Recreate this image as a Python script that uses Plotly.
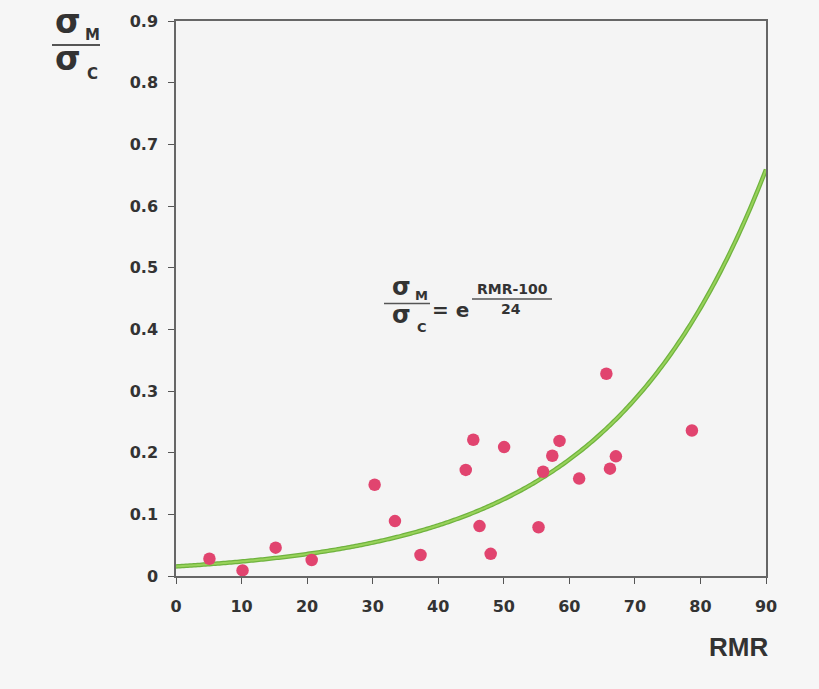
import numpy as np
import plotly.graph_objects as go

# ---- data ----
rmr = [5.1, 10.15, 15.2, 20.7, 30.3, 33.4, 37.3, 44.2, 45.35, 46.3, 48.0,
       50.05, 55.3, 56.0, 57.4, 58.5, 61.5, 65.65, 66.2, 67.1, 78.7]
ratio = [0.028, 0.009, 0.046, 0.026, 0.148, 0.089, 0.034, 0.172, 0.221, 0.081, 0.036,
         0.209, 0.079, 0.169, 0.195, 0.219, 0.158, 0.328, 0.174, 0.194, 0.236]

x_ticks = [0, 10, 20, 30, 40, 50, 60, 70, 80, 90]
y_ticks = [0, 0.1, 0.2, 0.3, 0.4, 0.5, 0.6, 0.7, 0.8, 0.9]
y_ticktext = ["0", "0.1", "0.2", "0.3", "0.4", "0.5", "0.6", "0.7", "0.8", "0.9"]

# fitted curve from the equation shown: sigma_M/sigma_C = exp((RMR-100)/24)
FIT_OFFSET = 100
FIT_SCALE = 24
curve_x = np.linspace(0, 90, 300)
curve_y = np.exp((curve_x - FIT_OFFSET) / FIT_SCALE)

# ---- layout geometry (pixels) ----
W, H = 819, 689
L, R, T, B = 176, 766, 19, 576


def px(x):
    return (x - L) / (R - L)


def py(y):
    return (B - y) / (B - T)


FONT = "DejaVu Sans, sans-serif"
ARIAL = "Liberation Sans, Arial, sans-serif"
TXT = "#333333"

fig = go.Figure()
fig.add_trace(go.Scatter(x=curve_x, y=curve_y, mode="lines",
                         line=dict(color="#6fb33e", width=4.5, simplify=False),
                         hoverinfo="skip", showlegend=False))
fig.add_trace(go.Scatter(x=curve_x, y=curve_y, mode="lines",
                         line=dict(color="#98d25a", width=2, simplify=False),
                         hoverinfo="skip", showlegend=False))
fig.add_trace(go.Scatter(x=rmr, y=ratio, mode="markers",
                         marker=dict(color="#e1446f", size=12.5, line=dict(width=0)),
                         cliponaxis=False, showlegend=False))

axis_common = dict(showgrid=False, zeroline=False, showline=True, linecolor="#666666",
                   linewidth=1.5, mirror=True, ticks="outside", ticklen=6,
                   tickcolor="#555555", tickwidth=1.2,
                   tickfont=dict(family=FONT, size=16, color=TXT, weight="bold"))

fig.update_xaxes(range=[0, 90], tickvals=x_ticks, ticktext=[str(v) for v in x_ticks],
                 ticklabelstandoff=9, **axis_common)
fig.update_yaxes(range=[0, 0.9], tickvals=y_ticks, ticktext=y_ticktext,
                 ticklabelstandoff=7, **axis_common)

annotations = []
shapes = []


def txt(x, y, s, size, bold=True, family=FONT):
    annotations.append(dict(x=px(x), y=py(y), xref="paper", yref="paper", text=s,
                            showarrow=False, xanchor="center", yanchor="middle",
                            font=dict(family=family, size=size, color=TXT,
                                      weight="bold" if bold else "normal")))


def hline(x0, x1, y, width=1.5):
    shapes.append(dict(type="line", xref="paper", yref="paper", x0=px(x0), x1=px(x1),
                       y0=py(y), y1=py(y), line=dict(color="#555555", width=width)))


# y-axis label: sigma_M / sigma_C
txt(68, 20, "σ", 33)
txt(92, 33, "M", 15)
hline(52, 100, 43, 2)
txt(68, 57, "σ", 33)
txt(92, 72, "C", 15)

# x-axis label
txt(738, 647, "RMR", 26, family=ARIAL)

# formula annotation
txt(401, 286, "σ", 24)
txt(421, 294, "M", 13)
hline(384, 430, 302.5, 1.5)
txt(401, 314, "σ", 24)
txt(422, 327, "C", 13)
txt(450, 309, "= e", 20)
txt(512, 288, "RMR-100", 14)
hline(472, 552, 298, 1.3)
txt(511, 308, "24", 14)

fig.update_layout(width=W, height=H,
                  margin=dict(l=L, r=W - R, t=T, b=H - B, pad=0),
                  paper_bgcolor="#f6f6f6", plot_bgcolor="#f4f4f4",
                  annotations=annotations, shapes=shapes, showlegend=False)

fig.write_html("out.html")
